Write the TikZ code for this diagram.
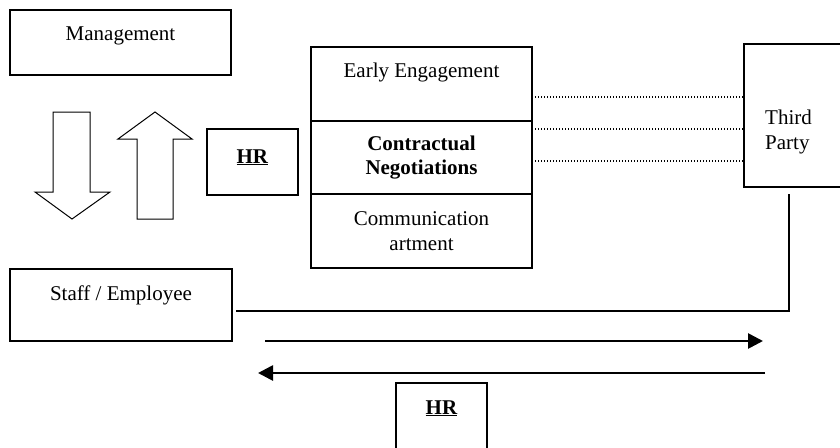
\documentclass[tikz,border=0pt]{standalone}
\usepackage{fontspec}
\setmainfont{Liberation Serif}
\usetikzlibrary{arrows.meta,positioning,calc}

\begin{document}
\begin{tikzpicture}[x=1pt,y=-1pt,
 box/.style={draw=black,line width=1.3pt,inner sep=0pt,outer sep=0pt,align=center,
 font=\fontsize{21}{24.5}\selectfont},
 lbl/.style={inner sep=0pt,font=\fontsize{21}{24.5}\selectfont},
 link/.style={draw=black,line width=1.3pt},
 dotline/.style={line width=1.3pt,dash pattern=on 1.3pt off 1.7pt},
 flow/.style={line width=2.7pt,-{Triangle[length=15pt,width=15pt]}},
 block/.style={draw=black,line width=1pt,fill=white}]
\useasboundingbox (0,0) rectangle (840,447);
\clip (0,0) rectangle (840,447);
\node[box,minimum width=221pt,text height=30pt,text depth=35pt] (mgmt) at (120.5,42.5) {Management};
\node[box,minimum width=91pt,text height=34pt,text depth=32pt] (hrTop) at (252.5,162) {\underline{\textbf{HR}}};
\node[box,minimum width=221pt,text height=30pt,text depth=44pt] (cTop) at (421.5,84) {Early Engagement};
\node[box,minimum width=221pt,minimum height=73pt,below=0pt of cTop] (cMid)
 {\textbf{Contractual}\\\textbf{Negotiations}};
\node[box,minimum width=221pt,minimum height=74pt,below=0pt of cMid] (cBot)
 {Communication\\artment};
\node[box,minimum width=106pt,minimum height=143pt] (tp) at (797,115.5) {};
\node[lbl,anchor=north west,align=left] (tpText) at (765,110) {Third\\Party};
\node[box,minimum width=222pt,text height=31pt,text depth=41pt] (staff) at (121,305) {Staff / Employee};
\node[box,minimum width=91pt,text height=31pt,text depth=56pt] (hrBot) at (441.5,426.5) {\underline{\textbf{HR}}};
% up and down block arrows
\draw[block] (53,112) -- (90,112) -- (90,192) -- (110,192) -- (72,219) -- (35,192) -- (53,192) -- cycle;
\draw[block] (155,112) -- (192,139) -- (173,139) -- (173,219) -- (137,219) -- (137,139) -- (118,139) -- cycle;
\foreach \yy in {97,129,161} {
 \coordinate (dl) at (0,\yy);
 \draw[dotline] (cTop.east |- dl) -- (tp.west |- dl);
}
\coordinate (tpFoot) at (789,194);
\coordinate (staffLine) at (236,311);
\draw[link] (tpFoot) |- (staffLine);
\coordinate (rStart) at (265,341);
\coordinate (rEnd) at (763,341);
\coordinate (lStart) at (765,373);
\coordinate (lEnd) at (258,373);
\draw[flow] (rStart) -- (rEnd);
\draw[flow] (lStart) -- (lEnd);
\end{tikzpicture}
\end{document}
